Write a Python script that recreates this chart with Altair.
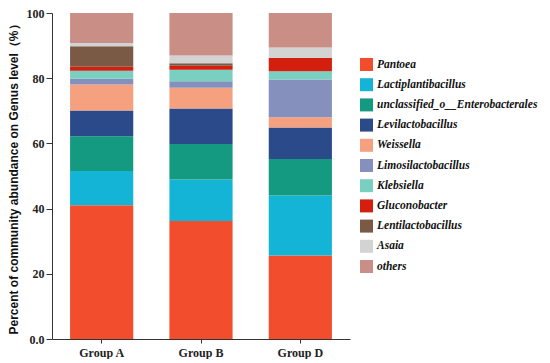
import altair as alt
import pandas as pd

groups = ["Group A", "Group B", "Group D"]
genera = ["Pantoea", "Lactiplantibacillus", "unclassified_o__Enterobacterales",
          "Levilactobacillus", "Weissella", "Limosilactobacillus", "Klebsiella",
          "Gluconobacter", "Lentilactobacillus", "Asaia", "others"]
colors = ["#F24E2E", "#14B4D6", "#149A80", "#2A4A8A", "#F5A07E", "#8591BC",
          "#79CFC0", "#D41E0E", "#7B5A45", "#D3D3D3", "#C98E85"]

group_a = [41.0, 10.5, 10.7, 7.9, 8.0, 1.7, 2.5, 1.2, 6.3, 1.0, 9.2]
group_b = [36.2, 12.7, 10.9, 10.9, 6.4, 2.0, 3.5, 1.2, 0.8, 2.4, 13.0]
group_d = [25.6, 18.4, 11.2, 9.7, 3.1, 11.6, 2.5, 4.1, 0.1, 3.1, 10.6]

rows = []
for g, vals in zip(groups, [group_a, group_b, group_d]):
    for i, (name, v) in enumerate(zip(genera, vals)):
        rows.append({"group": g, "genus": name, "value": v, "order": i})
df = pd.DataFrame(rows)

SERIF = "Liberation Serif"

chart = alt.Chart(df).mark_bar().encode(
    x=alt.X("group:N", sort=groups, title=None,
            scale=alt.Scale(paddingInner=0.364, paddingOuter=0.182),
            axis=alt.Axis(labelAngle=0, labelFont=SERIF, labelFontWeight="bold",
                          labelFontSize=12, labelColor="#222", tickSize=4, tickColor="#333",
                          domainColor="#333", labelPadding=4)),
    y=alt.Y("value:Q", stack="zero",
            title="Percent of community abundance on Genus level（%）",
            scale=alt.Scale(domain=[0, 100], nice=False),
            axis=alt.Axis(values=[0, 20, 40, 60, 80, 100], grid=False,
                          labelExpr="datum.value == 0 ? '0.0' : datum.label",
                          labelFont=SERIF, labelFontWeight="bold",
                          labelFontSize=12, labelColor="#222", tickSize=6,
                          tickColor="#333", domainColor="#333", labelPadding=2,
                          titleFont="Liberation Sans", titleFontSize=12,
                          titleFontWeight="bold", titleColor="#111", titlePadding=6)),
    color=alt.Color("genus:N", sort=genera,
                    scale=alt.Scale(domain=genera, range=colors),
                    legend=alt.Legend(title=None, orient="none", legendX=308, legendY=45,
                                      symbolType="square", symbolSize=169,
                                      symbolStrokeWidth=0, labelFont=SERIF,
                                      labelFontStyle="italic", labelFontWeight="bold",
                                      labelFontSize=11.5, labelColor="#111",
                                      rowPadding=7.2, labelOffset=4, labelLimit=300)),
    order=alt.Order("order:Q", sort="ascending"),
).properties(
    width=298, height=326,
    autosize=alt.AutoSizeParams(type="none"),
    padding={"left": 44, "top": 5, "right": 192, "bottom": 20},
).configure_view(stroke=None)

chart.save("out.html", embed_options={"renderer": "svg", "actions": False})
